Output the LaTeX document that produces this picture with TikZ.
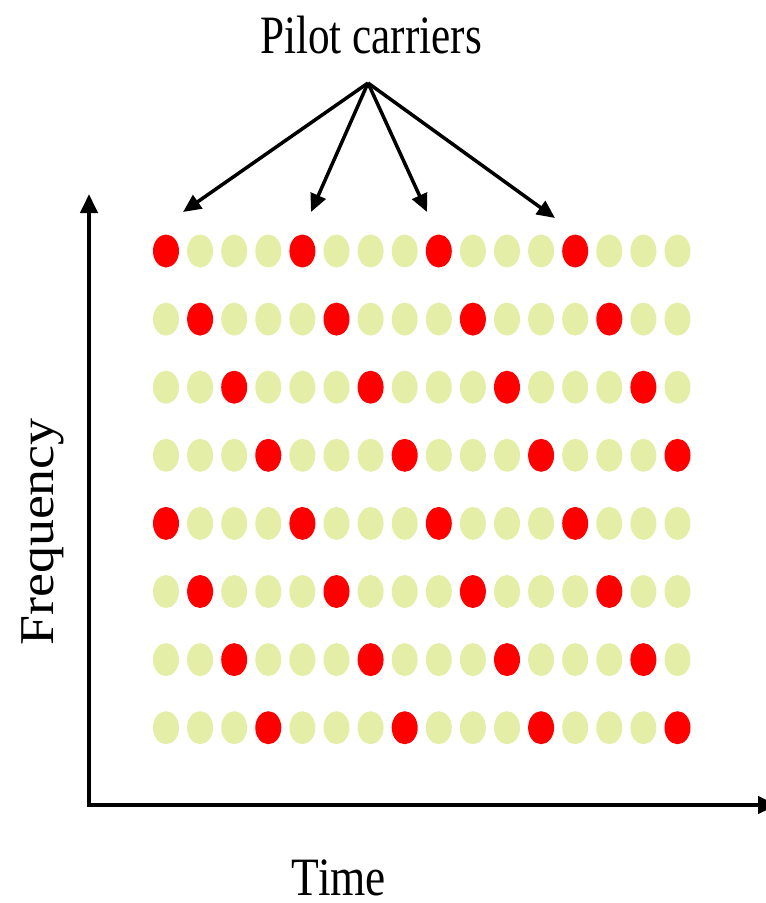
\documentclass[tikz,border=0pt]{standalone}
\usepackage{fontspec}
\setmainfont{Liberation Serif}
\usepackage{graphicx}
\usetikzlibrary{shapes.geometric,arrows.meta}
\definecolor{pilotred}{RGB}{255,0,0}
\definecolor{datagreen}{RGB}{228,238,166}
\begin{document}
\begin{tikzpicture}[x=1pt,y=-1pt,
  cell/.style={ellipse,draw=none,minimum width=26pt,minimum height=33pt,inner sep=0pt},
  pilot/.style={cell,fill=pilotred},
  data/.style={cell,fill=datagreen},
  pointer/.style={line width=3.5pt,-{Triangle[length=18pt,width=16pt]}},
  axis/.style={line width=4.5pt,{Triangle[length=19pt,width=17pt]}-{Triangle[length=19pt,width=17pt]}},
  lbl/.style={font=\fontsize{54}{60}\selectfont,inner sep=0pt}]
\useasboundingbox (0,0) rectangle (766,903);
% grid of carriers
\foreach \r in {0,...,7}{
  \foreach \c in {0,...,15}{
    \pgfmathtruncatemacro\m{mod(\c-mod(\r,4)+16,4)}
    \ifnum\m=0 \def\st{pilot}\else\def\st{data}\fi
    \node[\st] (e-\r-\c) at ({166+34.1*\c},{251+68.1*\r}) {};
  }
}
% axes
\coordinate (o) at (89,805);
\coordinate (ytop) at (89,194);
\coordinate (xend) at (777,805);
\draw[axis] (ytop) -- (o) -- (xend);
% labels
\node[lbl,anchor=base] (title) at (371,53) {\scalebox{0.8}[1]{Pilot carriers}};
\node[lbl,anchor=base] (time) at (339,895) {\scalebox{0.84}[1]{Time}};
\node[lbl,anchor=base,rotate=90] (freq) at (53,532) {\scalebox{1}[0.9]{Frequency}};
% pilot pointers
\coordinate (apex) at (368,83);
\coordinate (t1) at (183,212);
\coordinate (t2) at (311,212);
\coordinate (t3) at (427,212);
\coordinate (t4) at (555,218);
\foreach \t in {t1,t2,t3,t4}{\draw[pointer] (apex) -- (\t);}
\end{tikzpicture}
\end{document}
